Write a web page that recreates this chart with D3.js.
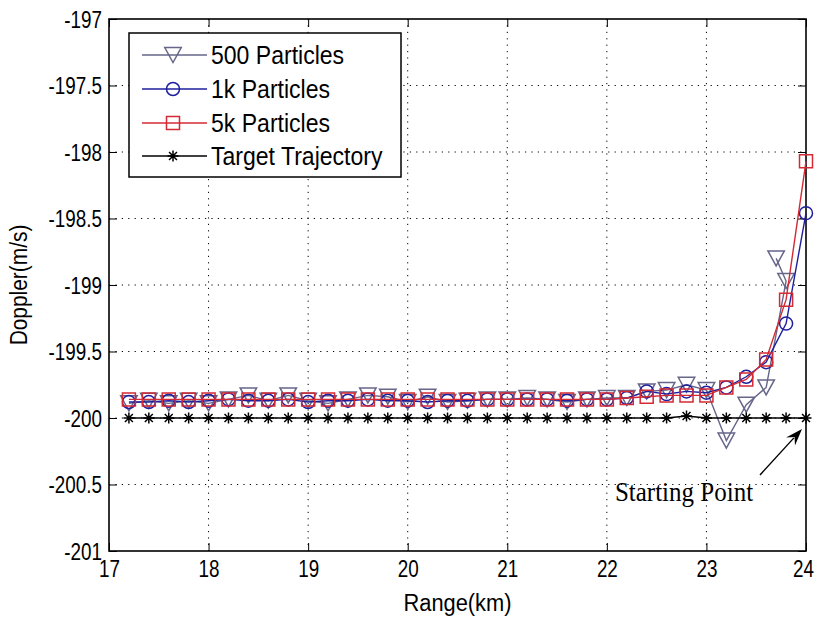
<!DOCTYPE html>
<html><head><meta charset="utf-8">
<script src="https://cdn.jsdelivr.net/npm/d3@7"></script>
<style>body{margin:0;background:#fff}svg{display:block}</style>
</head><body>
<svg id="c" width="816" height="621"></svg>
<script>
// ---- data ----
const rangeKm = [17.2,17.4,17.6,17.8,18.0,18.2,18.4,18.6,18.8,19.0,19.2,19.4,19.6,19.8,20.0,20.2,20.4,20.6,20.8,21.0,21.2,21.4,21.6,21.8,22.0,22.2,22.4,22.6,22.8,23.0,23.2,23.4,23.6,23.8,24.0];
const rangeKm500 = [17.2,17.4,17.6,17.8,18.0,18.2,18.4,18.6,18.8,19.0,19.2,19.4,19.6,19.8,20.0,20.2,20.4,20.6,20.8,21.0,21.2,21.4,21.6,21.8,22.0,22.2,22.4,22.6,22.8,23.0,23.2,23.4,23.6,23.8,23.7];
const doppler500 = [-199.89,-199.87,-199.89,-199.87,-199.89,-199.86,-199.83,-199.87,-199.83,-199.87,-199.89,-199.86,-199.83,-199.84,-199.88,-199.84,-199.88,-199.87,-199.86,-199.86,-199.85,-199.86,-199.88,-199.86,-199.85,-199.85,-199.80,-199.79,-199.75,-199.79,-200.17,-199.90,-199.77,-198.97,-198.80];
const doppler1k = [-199.88,-199.88,-199.87,-199.88,-199.87,-199.86,-199.87,-199.87,-199.86,-199.88,-199.87,-199.87,-199.86,-199.87,-199.87,-199.88,-199.87,-199.87,-199.86,-199.86,-199.86,-199.86,-199.87,-199.86,-199.86,-199.85,-199.80,-199.82,-199.80,-199.81,-199.77,-199.69,-199.58,-199.29,-198.46];
const doppler5k = [-199.86,-199.86,-199.86,-199.86,-199.86,-199.86,-199.86,-199.86,-199.86,-199.86,-199.86,-199.86,-199.86,-199.86,-199.86,-199.86,-199.86,-199.86,-199.86,-199.86,-199.86,-199.86,-199.86,-199.86,-199.86,-199.85,-199.84,-199.83,-199.83,-199.83,-199.77,-199.71,-199.56,-199.11,-198.07];
const dopplerTarget = [-200,-200,-200,-200,-200,-200,-200,-200,-200,-200,-200,-200,-200,-200,-200,-200,-200,-200,-200,-200,-200,-200,-200,-200,-200,-200,-200,-200,-199.985,-200,-200,-200,-200,-200,-200];
const seriesNames = ["500 Particles","1k Particles","5k Particles","Target Trajectory"];
const xTicks = [17,18,19,20,21,22,23,24];
const yTicks = [-197,-197.5,-198,-198.5,-199,-199.5,-200,-200.5,-201];
const annotation = {text:"Starting Point", x:24, y:-200};

// ---- layout ----
const L=109, R=806, T=19, B=551;
const svg = d3.select("#c");
const x = d3.scaleLinear().domain([17,24]).range([L,R]);
const y = d3.scaleLinear().domain([-201,-197]).range([B,T]);

// grid
const grid = svg.append("g").attr("stroke","#000").attr("stroke-width",1).attr("stroke-dasharray","1.2,5.2");
grid.selectAll("line.gx").data(xTicks.slice(1,-1)).join("line")
  .attr("x1",d=>x(d)).attr("x2",d=>x(d)).attr("y1",T).attr("y2",B);
grid.selectAll("line.gy").data(yTicks.slice(1,-1)).join("line")
  .attr("y1",d=>y(d)).attr("y2",d=>y(d)).attr("x1",L).attr("x2",R);

// axes (MATLAB-style inward ticks on all four sides)
const tickLen = 8;
const axB = svg.append("g").attr("transform",`translate(0,${B})`)
  .call(d3.axisBottom(x).tickValues(xTicks).tickSize(-tickLen).tickPadding(0).tickFormat(d3.format("d")));
const axT = svg.append("g").attr("transform",`translate(0,${T})`)
  .call(d3.axisTop(x).tickValues(xTicks).tickSize(-tickLen).tickFormat(""));
const axLft = svg.append("g").attr("transform",`translate(${L},0)`)
  .call(d3.axisLeft(y).tickValues(yTicks).tickSize(-tickLen).tickPadding(0).tickFormat(d=>String(d)));
const axRgt = svg.append("g").attr("transform",`translate(${R},0)`)
  .call(d3.axisRight(y).tickValues(yTicks).tickSize(-tickLen).tickFormat(""));
[axB,axT,axLft,axRgt].forEach(a=>{
  a.select(".domain").remove();
  a.selectAll(".tick line").attr("stroke","#000").attr("stroke-width",1);
  a.selectAll("text").attr("fill","#000").style("font-family","'Liberation Sans', Arial, sans-serif").style("font-size","23px");
});
axB.selectAll(".tick text").attr("y",null).attr("dy",null)
  .attr("transform",(d,i)=>`translate(${d===24?-3:0},26) scale(0.82,1)`);
axLft.selectAll(".tick text").attr("x",null).attr("dy",null)
  .attr("transform","translate(-7,8) scale(0.82,1)");
svg.append("rect").attr("x",L).attr("y",T).attr("width",R-L).attr("height",B-T)
  .attr("fill","none").attr("stroke","#000").attr("stroke-width",1.6);

// axis titles
svg.append("text").attr("transform",`translate(${(L+R)/2},611) scale(0.95,1.05)`).attr("text-anchor","middle")
  .style("font-family","'Liberation Sans', Arial, sans-serif").style("font-size","23px").text("Range(km)");
svg.append("text").attr("transform",`translate(27,${(T+B)/2}) rotate(-90) scale(0.95,1.05)`).attr("text-anchor","middle")
  .style("font-family","'Liberation Sans', Arial, sans-serif").style("font-size","22px").text("Doppler(m/s)");

// markers
function triPath(s){const w=s*1.1,h=s;return `M${-w/2},${-h/2}L${w/2},${-h/2}L0,${h/2}Z`;}
function sqPath(s){return `M${-s/2},${-s/2}h${s}v${s}h${-s}Z`;}
function circPath(s){const r=s/2;return `M${r},0A${r},${r} 0 1 1 ${-r},0A${r},${r} 0 1 1 ${r},0Z`;}
function starPath(s){const r=s/2,d=r*0.72;return `M${-r},0H${r}M0,${-r}V${r}M${-d},${-d}L${d},${d}M${-d},${d}L${d},${-d}`;}

const series = [
  {name:seriesNames[0], xs:rangeKm500, ys:doppler500, color:"#66668a", path:triPath(15)},
  {name:seriesNames[1], xs:rangeKm, ys:doppler1k, color:"#1f1f9e", path:circPath(13)},
  {name:seriesNames[2], xs:rangeKm, ys:doppler5k, color:"#d42a33", path:sqPath(13)},
  {name:seriesNames[3], xs:rangeKm, ys:dopplerTarget, color:"#000", path:starPath(11)}
];
const line = d3.line().x(d=>x(d[0])).y(d=>y(d[1]));
series.forEach(s=>{
  const pts = s.xs.map((v,i)=>[v,s.ys[i]]);
  const g = svg.append("g");
  g.append("path").attr("d",line(pts)).attr("fill","none").attr("stroke",s.color).attr("stroke-width",1.4);
  g.selectAll("path.m").data(pts).join("path").attr("class","m")
    .attr("transform",d=>`translate(${x(d[0])},${y(d[1])})`).attr("d",s.path)
    .attr("fill","none").attr("stroke",s.color).attr("stroke-width",1.5);
});

// annotation
const ax0 = x(annotation.x)-4, ay0 = y(annotation.y)+11;
const tx = 760, ty = 475;
const ang = Math.atan2(ay0-ty, ax0-tx);
svg.append("line").attr("x1",tx).attr("y1",ty).attr("x2",ax0-12*Math.cos(ang)).attr("y2",ay0-12*Math.sin(ang))
  .attr("stroke","#000").attr("stroke-width",1.4);
const ah=17, aw=6;
const bx = ax0-ah*Math.cos(ang), by = ay0-ah*Math.sin(ang);
svg.append("path").attr("d",`M${ax0},${ay0}L${bx+aw*Math.sin(ang)},${by-aw*Math.cos(ang)}L${bx+6*Math.cos(ang)},${by+6*Math.sin(ang)}L${bx-aw*Math.sin(ang)},${by+aw*Math.cos(ang)}Z`)
  .attr("fill","#000");
svg.append("text").attr("transform","translate(684,501) scale(1,1.12)").attr("text-anchor","middle")
  .style("font-family","'Liberation Serif', 'Times New Roman', serif").style("font-size","25px").text(annotation.text);

// legend
const lg = svg.append("g");
lg.append("rect").attr("x",129).attr("y",33).attr("width",272).attr("height",144)
  .attr("fill","#fff").attr("stroke","#000").attr("stroke-width",1.5);
const rowY = [55,89,123,156];
series.forEach((s,i)=>{
  const yy=rowY[i];
  lg.append("line").attr("x1",142).attr("x2",207).attr("y1",yy).attr("y2",yy).attr("stroke",s.color).attr("stroke-width",1.4);
  lg.append("path").attr("transform",`translate(173,${yy})`).attr("d",s.path).attr("fill","none").attr("stroke",s.color).attr("stroke-width",1.5);
  lg.append("text").attr("transform",`translate(211,${yy+9}) scale(0.96,1.1)`)
    .style("font-family","'Liberation Sans', Arial, sans-serif").style("font-size","24px").text(s.name);
});
</script>
</body></html>
